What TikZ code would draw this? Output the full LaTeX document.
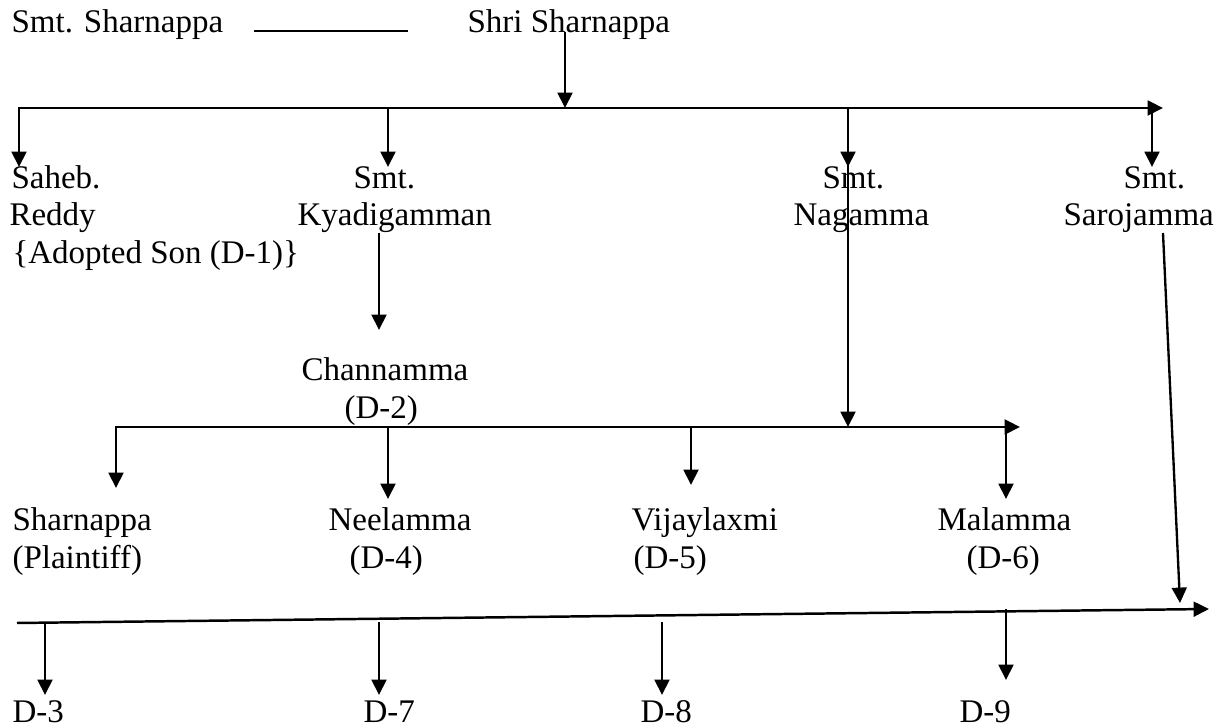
\documentclass[tikz,border=0pt]{standalone}
\usepackage{fontspec}
\setmainfont{Liberation Serif}
\usetikzlibrary{arrows.meta}
\begin{document}
\begin{tikzpicture}[x=0.3636pt,y=-0.3636pt,
  lbl/.style={anchor=base west, inner sep=0pt, font=\fontsize{12}{13.8}\selectfont},
  busarrow/.style={line width=0.9pt,-{Triangle[length=5.6pt,width=5.4pt]}},
  downarrow/.style={line width=0.85pt,-{Triangle[length=5.6pt,width=5.4pt]}}]
\useasboundingbox (0,0) rectangle (1224,728);

% parents
\node[lbl] (smt) at (11,33) {Smt. Sharnappa};
\node[lbl] (shri) at (467,33) {Shri Sharnappa};
\coordinate (mL) at (254,31);
\coordinate (mR) at (408,31);
\draw[line width=0.8pt] (mL) -- (mR);

% first bus
\coordinate (s1) at (565,32);
\coordinate (b1m) at (565,108);
\coordinate (b1L) at (19,108);
\coordinate (b1R) at (1163,108);
\draw[downarrow] (s1) -- (b1m);
\draw[busarrow] (b1L) -- (b1R);

\coordinate (b1a) at (388,108);
\coordinate (b1n) at (848,108);
\coordinate (b1s) at (1152,108);
\coordinate (t1) at (19,167);
\coordinate (t2) at (388,167);
\coordinate (t3) at (848,167);
\coordinate (t4) at (1152,167);
\draw[downarrow] ([yshift=0.45pt]b1L) -- (t1);
\draw[downarrow] (b1a) -- (t2);
\draw[downarrow] (b1n) -- (t3);
\draw[downarrow] (b1s) -- (t4);

% children
\node[lbl] (saheb1) at (11,189) {Saheb.};
\node[lbl] (saheb2) at (9,226) {Reddy};
\node[lbl] (saheb3) at (12,264) {\{Adopted Son (D-1)\}};
\node[lbl] (kya1) at (353,189) {Smt.};
\node[lbl] (kya2) at (297,226) {Kyadigamman};
\node[lbl] (nag1) at (822,189) {Smt.};
\node[lbl] (nag2) at (793,226) {Nagamma};
\node[lbl] (saro1) at (1123,189) {Smt.};
\node[lbl] (saro2) at (1063,226) {Sarojamma};

% Kyadigamman -> Channamma
\coordinate (k1) at (379,233);
\coordinate (k2) at (379,330);
\draw[downarrow] (k1) -- (k2);
\node[lbl] (chan1) at (301,381) {Channamma};
\node[lbl] (chan2) at (344,419) {(D-2)};

% second bus
\coordinate (b2L) at (116,427);
\coordinate (b2R) at (1020,427);
\coordinate (b2n) at (848,427);
\draw[busarrow] (b2L) -- (b2R);
\draw[downarrow] (b1n) -- (b2n);

\coordinate (b2a) at (388,427);
\coordinate (b2b) at (691,427);
\coordinate (b2c) at (1006,427);
\coordinate (u1) at (116,488);
\coordinate (u2) at (388,499);
\coordinate (u3) at (691,485);
\coordinate (u4) at (1006,499);
\draw[downarrow] ([yshift=0.45pt]b2L) -- (u1);
\draw[downarrow] (b2a) -- (u2);
\draw[downarrow] (b2b) -- (u3);
\draw[downarrow] (b2c) -- (u4);

\node[lbl] (shar1) at (12,531) {Sharnappa};
\node[lbl] (shar2) at (12,569) {(Plaintiff)};
\node[lbl] (neel1) at (328,531) {Neelamma};
\node[lbl] (neel2) at (349,569) {(D-4)};
\node[lbl] (vij1) at (631,531) {Vijaylaxmi};
\node[lbl] (vij2) at (633,569) {(D-5)};
\node[lbl] (mal1) at (937,531) {Malamma};
\node[lbl] (mal2) at (966,569) {(D-6)};

% Sarojamma -> third bus
\coordinate (sr1) at (1163,233);
\coordinate (sr2) at (1180,603);
\draw[downarrow] (sr1) -- (sr2);

\coordinate (b3L) at (17,623);
\coordinate (b3R) at (1209,609);
\draw[busarrow] (b3L) -- (b3R);

\coordinate (v1a) at (45,622);
\coordinate (v2a) at (379,622);
\coordinate (v3a) at (662,622);
\coordinate (v4a) at (1006,609);
\coordinate (v1b) at (45,695);
\coordinate (v2b) at (379,695);
\coordinate (v3b) at (662,695);
\coordinate (v4b) at (1006,680);
\draw[downarrow] (v1a) -- (v1b);
\draw[downarrow] (v2a) -- (v2b);
\draw[downarrow] (v3a) -- (v3b);
\draw[downarrow] (v4a) -- (v4b);

\node[lbl] (d3) at (12,723) {D-3};
\node[lbl] (d7) at (363,723) {D-7};
\node[lbl] (d8) at (640,723) {D-8};
\node[lbl] (d9) at (959,723) {D-9};
\end{tikzpicture}
\end{document}
